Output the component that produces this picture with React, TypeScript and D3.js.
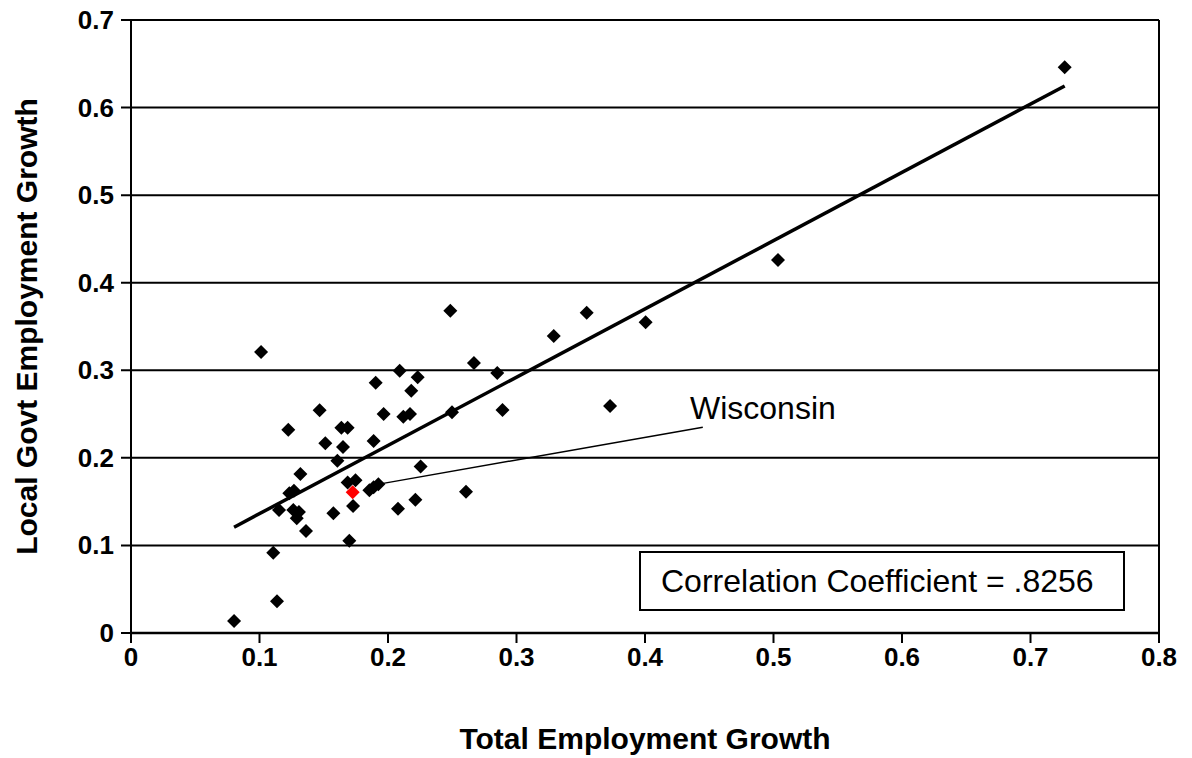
import React from "react";
import * as d3 from "d3";

// Total employment growth (x) vs local government employment growth (y), by state
const totalGrowth: number[] = [
  0.0802, 0.1012, 0.1107, 0.1136, 0.1152, 0.1224, 0.1232, 0.1268, 0.1263, 0.1307,
  0.129, 0.1318, 0.1362, 0.1468, 0.1512, 0.1575, 0.1606, 0.1637, 0.165, 0.1686,
  0.1686, 0.1699, 0.1728, 0.1747, 0.1855, 0.1888, 0.1925, 0.1888, 0.1904, 0.1966,
  0.2078, 0.2091, 0.2119, 0.2171, 0.2181, 0.2213, 0.2231, 0.2254, 0.2485, 0.2498,
  0.2607, 0.2669, 0.285, 0.2891, 0.329, 0.3546, 0.3728, 0.4005, 0.5035, 0.7266,
];
const localGovtGrowth: number[] = [
  0.0137, 0.321, 0.0917, 0.0362, 0.1405, 0.2322, 0.1595, 0.1625, 0.1405, 0.1382,
  0.131, 0.1816, 0.1166, 0.2543, 0.2166, 0.1367, 0.1968, 0.2345, 0.2124, 0.2345,
  0.172, 0.1054, 0.145, 0.1743, 0.163, 0.1665, 0.17, 0.2192, 0.2858, 0.2501,
  0.1418, 0.2996, 0.247, 0.2501, 0.2767, 0.1523, 0.292, 0.19, 0.368, 0.252,
  0.1614, 0.3083, 0.2969, 0.2547, 0.3392, 0.3658, 0.2592, 0.3548, 0.426, 0.646,
];
const wisconsin = { x: 0.1725, y: 0.1607, label: "Wisconsin" };
const wisconsinLeader = { x1: 0.193, y1: 0.17, x2: 0.445, y2: 0.235 };

const trendSlope = 0.7795;
const trendIntercept = 0.0583;

const xTicks: number[] = [0, 0.1, 0.2, 0.3, 0.4, 0.5, 0.6, 0.7, 0.8];
const yTicks: number[] = [0, 0.1, 0.2, 0.3, 0.4, 0.5, 0.6, 0.7];
const xTitle = "Total Employment Growth";
const yTitle = "Local Govt Employment Growth";
const corrText = "Correlation Coefficient = .8256";

const W = 1192;
const H = 758;
const left = 131;
const right = 1159;
const top = 20;
const bottom = 633;
const FONT = "'Liberation Sans', Arial, Helvetica, sans-serif";

export default function App() {
  const x = d3.scaleLinear().domain([0, 0.8]).range([left, right]);
  const y = d3.scaleLinear().domain([0, 0.7]).range([bottom, top]);
  const diamond = (cx: number, cy: number, r = 7) =>
    `M${cx},${cy - r}L${cx + r},${cy}L${cx},${cy + r}L${cx - r},${cy}Z`;

  const xMin = d3.min(totalGrowth) as number;
  const xMax = d3.max(totalGrowth) as number;
  const trend = d3
    .line<number>()
    .x((d) => x(d))
    .y((d) => y(trendIntercept + trendSlope * d));

  return (
    <svg
      width={W}
      height={H}
      style={{ position: "absolute", left: 0, top: 0, background: "#fff" }}
      fontFamily={FONT}
    >
      <rect x={0} y={0} width={W} height={H} fill="#fff" />
      {/* gridlines */}
      {yTicks.map((t) => (
        <line key={"g" + t} x1={left - 10} x2={right} y1={y(t)} y2={y(t)} stroke="#000" strokeWidth={2} />
      ))}
      {/* frame */}
      <line x1={left} x2={left} y1={top} y2={bottom} stroke="#000" strokeWidth={2} />
      <line x1={right} x2={right} y1={top} y2={bottom} stroke="#000" strokeWidth={2} />
      <line x1={left} x2={right} y1={bottom} y2={bottom} stroke="#000" strokeWidth={2.5} />
      {/* x ticks */}
      {xTicks.map((t) => (
        <g key={"x" + t}>
          <line x1={x(t)} x2={x(t)} y1={bottom} y2={bottom + 10} stroke="#000" strokeWidth={2} />
          <text x={x(t)} y={bottom + 33} textAnchor="middle" fontSize={26} fontWeight="bold">
            {String(t)}
          </text>
        </g>
      ))}
      {yTicks.map((t) => (
        <text key={"yl" + t} x={left - 17} y={y(t) + 9} textAnchor="end" fontSize={26} fontWeight="bold">
          {String(t)}
        </text>
      ))}
      {/* axis titles */}
      <text x={(left + right) / 2} y={749} textAnchor="middle" fontSize={30} fontWeight="bold">
        {xTitle}
      </text>
      <text
        transform={`translate(37,${(top + bottom) / 2}) rotate(-90)`}
        textAnchor="middle"
        fontSize={30}
        fontWeight="bold"
      >
        {yTitle}
      </text>
      {/* trend line */}
      <path d={trend([xMin, xMax]) || ""} stroke="#000" strokeWidth={3.5} fill="none" />
      {/* points */}
      {totalGrowth.map((v, i) => (
        <path key={"p" + i} d={diamond(x(v), y(localGovtGrowth[i]))} fill="#000" />
      ))}
      <path d={diamond(x(wisconsin.x), y(wisconsin.y))} fill="#ff0000" />
      {/* Wisconsin annotation */}
      <line
        x1={x(wisconsinLeader.x1)}
        y1={y(wisconsinLeader.y1)}
        x2={x(wisconsinLeader.x2)}
        y2={y(wisconsinLeader.y2)}
        stroke="#000"
        strokeWidth={1.5}
      />
      <text x={690} y={419} fontSize={32}>
        {wisconsin.label}
      </text>
      {/* correlation box */}
      <rect x={640} y={552} width={484} height={58} fill="#fff" stroke="#000" strokeWidth={2} />
      <text x={661} y={592} fontSize={32}>
        {corrText}
      </text>
    </svg>
  );
}
